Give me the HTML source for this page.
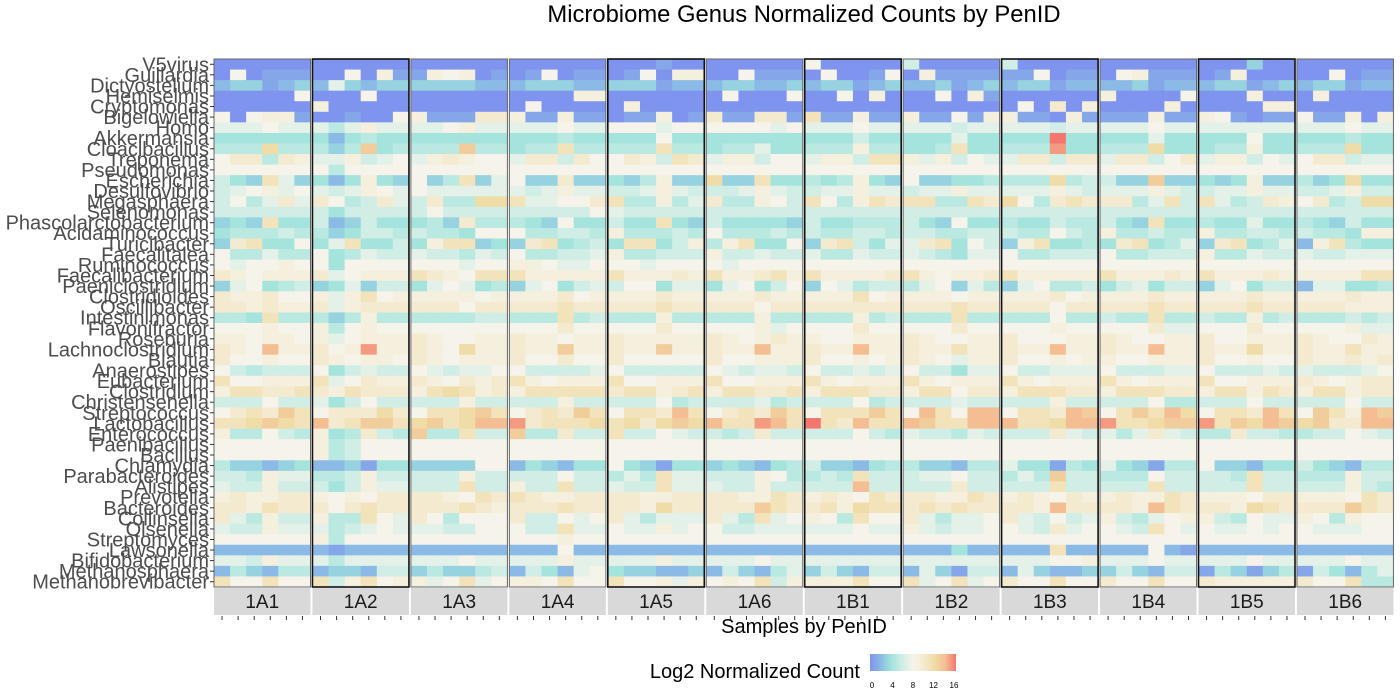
<!DOCTYPE html>
<html><head><meta charset="utf-8"><style>
html,body{margin:0;padding:0;background:#fff;}
svg{display:block;font-family:"Liberation Sans",Arial,sans-serif;}
</style></head><body>
<svg id="chart" width="1400" height="700" viewBox="0 0 1400 700">
<text x="804" y="22" text-anchor="middle" font-size="23.8" fill="#000">Microbiome Genus Normalized Counts by PenID</text>
<g id="cells"></g>
<g id="panels"></g>
<g id="ylabels"></g>
<g id="strips"></g>
<text x="804" y="633" text-anchor="middle" font-size="20" fill="#000">Samples by PenID</text>
<g>
<text x="860" y="678" text-anchor="end" font-size="20" fill="#000">Log2 Normalized Count</text>
<defs><linearGradient id="lg" x1="0" x2="1" y1="0" y2="0"></linearGradient></defs>
<rect x="870" y="654" width="86" height="17" fill="url(#lg)"/>
<g id="legticks"></g>
</g>
</svg>
<script>
const genera = ["V5virus","Guillardia","Dictyostelium","Hemiselmis","Cryptomonas","Bigelowiella","Homo","Akkermansia","Cloacibacillus","Treponema","Pseudomonas","Escherichia","Desulfovibrio","Megasphaera","Selenomonas","Phascolarctobacterium","Acidaminococcus","Turicibacter","Faecalitalea","Ruminococcus","Faecalibacterium","Paeniclostridium","Clostridioides","Oscillibacter","Intestinimonas","Flavonifractor","Roseburia","Lachnoclostridium","Blautia","Anaerostipes","Eubacterium","Clostridium","Christensenella","Streptococcus","Lactobacillus","Enterococcus","Paenibacillus","Bacillus","Chlamydia","Parabacteroides","Alistipes","Prevotella","Bacteroides","Collinsella","Olsenella","Streptomyces","Lawsonella","Bifidobacterium","Methanosphaera","Methanobrevibacter"];
const pens = ["1A1","1A2","1A3","1A4","1A5","1A6","1B1","1B2","1B3","1B4","1B5","1B6"];
const samplesPerPen = 6;
const legendTicks = [0,4,8,12,16];
// each char = log2 count in base 17 (0..g = 0..16), 6 samples per pen
const rowValues = [
"000000000000000000000000000100000000800000600000600000000000000300000000",
"080111008091198901018011018099008111080018091111118011089111019000008011",
"233123273233333322233322333122233223233123223123233122223122233123233122",
"000008000800000000000099000000080008008090008091000000900008000900090000",
"000000900000000000080000090000000000000000000000080a09000090000099000000",
"8089910010089111aa911911011901a11aa1b11911911819911091111911981011811909",
"777877757977778977777877888788888878777877777677777677777877777777777877",
"444444424544444444444544444844444444444644444744444g44444744444844444544",
"555c55535d45555d55455b55555b55455744555955445b44555f44555c44455944555c44",
"8aa5a977967879a9887aa6a88a96ba7996887996bb9796877aa6aa7aa68a7996878aa677",
"888888858888888888888888888888888888888888888888888888888888888888888888",
"643b73424943835b37833a33435933c33b44545943833445555c56633d33434933534c44",
"678978767987877777767977667976667976677977677977777976777976677977667966",
"6857a7a856a76a55ccb7788ab55957a55986b859babb55bac85abaaa57b6b756a98a56cc",
"666666646666686666666668766666666666666666666666666666666666666666666666",
"343b44623644453a55543844644b43644443644555643844544655643b44544744543644",
"455565534665655488855665955565855565655665665566655865955655955665655499",
"3ab44847b44649bb343ab4564bb46959b4483ab6477ab48639b4454ab4573ab45729b544",
"855755845766766576855667955666966766755766765477855666855666955766766777",
"878898848888888788998778887888878888888888888888888888888888888888888888",
"a98999a78999ba98bbb99999b999a9b99ab9b9999ab9899ab99999b999a9b999a99999bb",
"378456347366478745378467688477478468387566578375378556467466378466277445",
"a99a88979b89999989999a89999a99999a99999b89999899999a89999a99999a99999a99",
"aa9a99a79aaaaaa8aaaaabaaaaabaaaaa8aaaaaaaaaaabaaaaa8aaaaabaaaaabaaaaa999",
"554b55535955555566555b56555955555955555956555b55555855655b55655956555656",
"888988958988888888888a88888a88888978888a88888a88888988888a77888a88888977",
"998998978999a98899a99899a99999a989a9988999a98899a88899a98899a88999a988a9",
"a98e99a89f99a98c99a99d99a99d99a99e99a99e99a99b99a99e99a99e99a99c99a99b99",
"a88988a98998a98999a88a88a88888a88999a88989a98799a88989988999a88988a99a9a",
"865666846766876778866667866666876776866767866477866777866677866676766678",
"b88999b78a99a98a9ab98999b88999b88999b98999b98999b98999b98999b88999a989aa",
"9bbaaba9baaa9bcb9a9bbbbbabb9ab9bbaab9bbbaa9bb8aa9bbbaa9bbbaa9bb9ba9bb9aa",
"666866746866666966666966666856666756666856666766666966666855666866666866",
"8abadb8aaaca8bbcdb8abadb8bbaeb8abadb8bbbdb8eb8ee8bbaed8bdbec8bbaeb8db9ed",
"bbcdcbeabddbcdbceefabbbcbcacdcebbfebgbaebbedbbeeebbceefbbcddfbdcedcdaaee",
"955865945a65d55b66d55a66b66876656a66666865766576666a76757a7655a665566876",
"888888956888888888888888888888888888888888888888888888888888888888888888",
"888888956888888888888888888888888888888888888888888888888888888888888888",
"533234223144333388243244843144343245633245533255744154743155833244643255",
"665977556966666966666866575b77666985565b66677866575d66555866665b66555966",
"766966646977666b66966b66766b77766966666e66666a66666b66666b66666b66666965",
"9a99aa9898aaaa98baba99aaaa99aaaa99ba9a98baaa99ba9a98a99a99ba9998aa9998ba",
"aa9baaa8abaaaaaba9aaabaaaa9caaaaadbaab9cbbababaaaa9eaaaa9ebaaa9cbaaaadba",
"a75966955b87a85888a66878a75777a75b78985b88a75778a76867965789965877985988",
"766977756787776688866b77877978866777777877976778876a78876b87877878877788",
"888888958888888888888988888888888888888888888888888888888888888888888888",
"222222212222222222222822222222222222222222222422222b22222821222222222222",
"776977757777777877777977777977777877777777777777777889777877777877777877",
"253255233266353356264278433223263257363266273166273223363266153135164257",
"b88b88b69b89978b78998b88b88979898b69999b88b78b78a88b88a88b88a99999a88b55"
];
const NS="http://www.w3.org/2000/svg";
const stops=[[0,[126,148,238]],[2,[140,186,230]],[3,[150,210,224]],[4,[164,228,220]],[6,[208,237,230]],[8,[246,244,234]],[10,[244,234,208]],[12,[240,220,166]],[14,[244,190,146]],[16,[244,118,110]]];
function color(v){
  for(let i=1;i<stops.length;i++){ if(v<=stops[i][0]){const a=stops[i-1],b=stops[i];const t=(v-a[0])/(b[0]-a[0]);
    return "rgb("+a[1].map((c,k)=>Math.round(c+(b[1][k]-c)*t)).join(",")+")";}}
  return "rgb(244,118,110)";
}
const plotTop=59, plotBot=587, panelLeft=214, panelStep=98.45, panelW=96.5;
const rowH=(plotBot-plotTop)/genera.length;
const cellW=panelW/samplesPerPen;
function yPos(r){return plotTop+r*rowH;}
function xPos(p,s){return panelLeft+p*panelStep+s*cellW;}
function mk(tag,attrs,parent){const e=document.createElementNS(NS,tag);for(const k in attrs)e.setAttribute(k,attrs[k]);parent.appendChild(e);return e;}
const cells=document.getElementById("cells");
genera.forEach((g,r)=>{
  const str=rowValues[r];
  for(let p=0;p<pens.length;p++){for(let s=0;s<samplesPerPen;s++){
    const v=parseInt(str[p*samplesPerPen+s],17);
    const e=mk("rect",{x:xPos(p,s).toFixed(2),y:yPos(r).toFixed(2),width:(cellW+0.4).toFixed(2),height:(rowH+0.4).toFixed(2),fill:color(v)},cells);
    
    
  }}
});
const panels=document.getElementById("panels");
const strong=[1,4,6,8,10];
pens.forEach((pn,p)=>{
  const e=mk("rect",{x:xPos(p,0),y:plotTop,width:panelW,height:plotBot-plotTop,fill:"none",stroke:strong.includes(p)?"#111":"#666","stroke-width":strong.includes(p)?1.6:1},panels);
  
  
});
const yl=document.getElementById("ylabels");
genera.forEach((g,r)=>{
  const yc=yPos(r)+rowH/2;
  const t=mk("text",{x:209,y:(yc+7).toFixed(1),"text-anchor":"end","font-size":20,fill:"#4d4d4d"},yl);
  t.textContent=g;
  
  
  const tk=mk("line",{x1:210,x2:214,y1:yc,y2:yc,stroke:"#333","stroke-width":1},yl);
  
  
});
const st=document.getElementById("strips");
pens.forEach((pn,p)=>{
  const x0=xPos(p,0);
  const r=mk("rect",{x:x0,y:588,width:panelW,height:27,fill:"#d9d9d9"},st);
  
  
  const t=mk("text",{x:x0+panelW/2,y:608,"text-anchor":"middle","font-size":19,fill:"#1a1a1a"},st);
  t.textContent=pn;
  
  
  for(let s=0;s<samplesPerPen;s++){
    const xc=xPos(p,s)+cellW/2;
    const tk=mk("line",{x1:xc,x2:xc,y1:616,y2:620,stroke:"#333","stroke-width":1},st);
    
    
  }
});
const lg=document.getElementById("lg");
stops.forEach(s=>{mk("stop",{offset:(s[0]/16*100)+"%","stop-color":color(s[0])},lg);});
const lt=document.getElementById("legticks");
legendTicks.forEach(v=>{
  const x=872+v/16*82;
  const t=mk("text",{x:x,y:688,"text-anchor":"middle","font-size":8,fill:"#000"},lt);
  t.textContent=v;
  
  
});
</script>
</body></html>
